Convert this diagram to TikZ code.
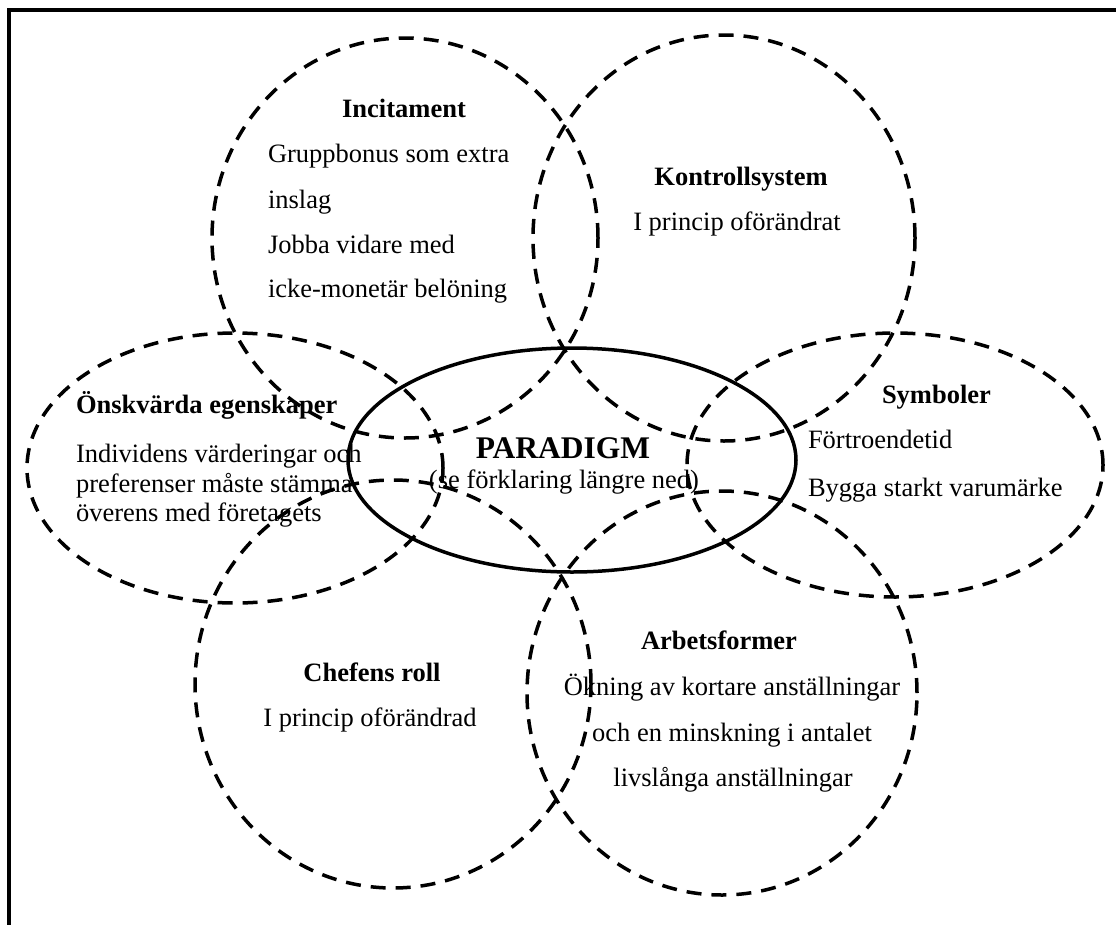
\documentclass[tikz,border=0pt]{standalone}
\usepackage{fontspec}
\setmainfont{Liberation Serif}
\tikzset{
  dashring/.style={draw=black, line width=3.5pt, dash pattern=on 15pt off 10pt},
  solidring/.style={draw=black, line width=3.5pt},
  frameline/.style={draw=black, line width=4pt},
  txt/.style={inner sep=0pt, outer sep=0pt, font=\fontsize{26.5}{30}\selectfont},
  head/.style={txt, font=\fontsize{26.5}{30}\selectfont\bfseries},
  bighead/.style={inner sep=0pt, outer sep=0pt, font=\fontsize{31.5}{36}\selectfont\bfseries},
}
\begin{document}
\begin{tikzpicture}[x=1pt, y=-1pt]
\useasboundingbox (0,0) rectangle (1116,924);
\clip (0,0) rectangle (1116,924);
% frame (only top and left edges fall inside the picture)
\draw[frameline] (9,1000) -- (9,10) -- (1200,10);

% dashed ellipses
\draw[dashring] (405,238) ellipse [x radius=193pt, y radius=200pt];
\draw[dashring] (724,238) ellipse [x radius=191pt, y radius=203pt];
\draw[dashring] (235,468) ellipse [x radius=208pt, y radius=135pt];
\draw[dashring] (895,465) ellipse [x radius=208pt, y radius=132pt];
\draw[dashring] (393,684) ellipse [x radius=198pt, y radius=204pt];
\draw[dashring] (722,693) ellipse [x radius=195pt, y radius=202pt];
% central solid ellipse
\draw[solidring] (572,460) ellipse [x radius=224pt, y radius=112pt];

% Incitament
\node[head, anchor=base] (inct) at (404,117) {Incitament};
\node[txt, anchor=base west] (inc1) at (268,162) {Gruppbonus som extra};
\node[txt, anchor=base west] (inc2) at (268,208) {inslag};
\node[txt, anchor=base west] (inc3) at (268,253) {Jobba vidare med};
\node[txt, anchor=base west] (inc4) at (268,297) {icke-monetär belöning};

% Kontrollsystem
\node[head, anchor=base] (kont) at (741,185) {Kontrollsystem};
\node[txt, anchor=base] (kon1) at (737,230) {I princip oförändrat};

% Önskvärda egenskaper
\node[head, anchor=base west] (onst) at (76,413) {Önskvärda egenskaper};
\node[txt, anchor=base west] (ons1) at (76,462) {Individens värderingar och};
\node[txt, anchor=base west] (ons2) at (76,492) {preferenser måste stämma};
\node[txt, anchor=base west] (ons3) at (76,521) {överens med företagets};

% PARADIGM
\node[bighead, anchor=base] (part) at (563,458) {PARADIGM};
\node[txt, anchor=base] (par1) at (564,488) {(se förklaring längre ned)};

% Symboler
\node[head, anchor=base west] (symt) at (882,403) {Symboler};
\node[txt, anchor=base west] (sym1) at (808,448) {Förtroendetid};
\node[txt, anchor=base west] (sym2) at (808,496) {Bygga starkt varumärke};

% Chefens roll
\node[head, anchor=base] (chet) at (372,681) {Chefens roll};
\node[txt, anchor=base] (che1) at (370,726) {I princip oförändrad};

% Arbetsformer
\node[head, anchor=base] (arbt) at (719,649) {Arbetsformer};
\node[txt, anchor=base] (arb1) at (732,695) {Ökning av kortare anställningar};
\node[txt, anchor=base] (arb2) at (732,741) {och en minskning i antalet};
\node[txt, anchor=base] (arb3) at (733,786) {livslånga anställningar};
\end{tikzpicture}
\end{document}
